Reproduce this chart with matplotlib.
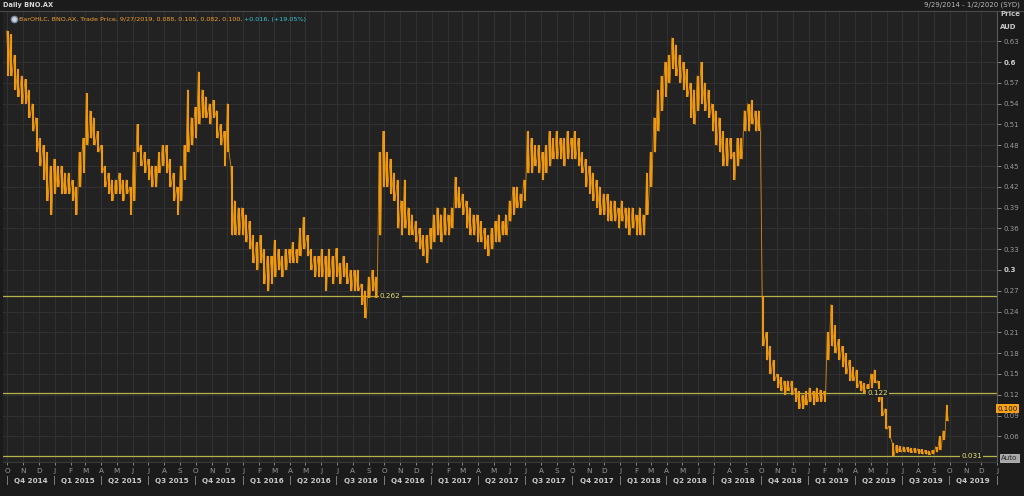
import numpy as np
import pandas as pd
import matplotlib
matplotlib.use("Agg")
import matplotlib.pyplot as plt
import matplotlib.dates as mdates
from matplotlib.lines import Line2D

# ---------------- data (weekly ranges) ----------------
week_low = [
    # 2014 Oct-Dec
    0.58, 0.58, 0.56, 0.55, 0.54,   0.54, 0.52, 0.50, 0.47,   0.45, 0.43, 0.40, 0.38,
    # 2015
    0.41, 0.42, 0.41, 0.41, 0.41,   0.40, 0.38, 0.42, 0.44,   0.48, 0.49, 0.48, 0.47,
    0.44, 0.42, 0.41, 0.40,         0.41, 0.41, 0.40, 0.41, 0.38,   0.40, 0.47, 0.45, 0.44,
    0.43, 0.42, 0.42, 0.44, 0.45,   0.44, 0.42, 0.40, 0.38,   0.40, 0.43, 0.47, 0.48,
    0.49, 0.51, 0.52, 0.52, 0.51,   0.52, 0.49, 0.48, 0.45,   0.47, 0.35, 0.35, 0.35,
    # 2016
    0.35, 0.34, 0.33, 0.31, 0.30,   0.31, 0.28, 0.27, 0.28,   0.29, 0.30, 0.29, 0.30,
    0.31, 0.31, 0.31, 0.32, 0.33,   0.32, 0.30, 0.29, 0.29,   0.29, 0.27, 0.29, 0.28,
    0.29, 0.28, 0.29, 0.28, 0.27,   0.27, 0.27, 0.25, 0.23,   0.26, 0.27, 0.26, 0.35, 0.42,
    0.42, 0.41, 0.40, 0.36,         0.35, 0.36, 0.35, 0.35,   0.34, 0.33, 0.32, 0.31, 0.33,
    # 2017
    0.34, 0.35, 0.34, 0.35,   0.35, 0.36, 0.39, 0.39,   0.38, 0.36, 0.35, 0.35, 0.34,
    0.34, 0.33, 0.32, 0.33,   0.34, 0.34, 0.35, 0.35,   0.37, 0.38, 0.39, 0.39, 0.40,
    0.44, 0.44, 0.45, 0.44,   0.43, 0.44, 0.45, 0.46,   0.46, 0.46, 0.45, 0.46, 0.46,
    0.46, 0.45, 0.44, 0.42,   0.41, 0.40, 0.39, 0.38,   0.38, 0.37, 0.37, 0.37, 0.36,
    # 2018
    0.37, 0.36, 0.35, 0.36,   0.35, 0.35, 0.35, 0.38,   0.42, 0.47, 0.50, 0.53, 0.55,
    0.57, 0.59, 0.58, 0.57,   0.56, 0.55, 0.52, 0.51,   0.53, 0.54, 0.53, 0.52, 0.50,
    0.48, 0.47, 0.45, 0.45,   0.46, 0.43, 0.45, 0.46, 0.50,   0.50, 0.51, 0.50, 0.50,
    0.19, 0.17, 0.15, 0.14,   0.13, 0.125, 0.12, 0.125, 0.12,   0.11, 0.10, 0.10, 0.105,
    # 2019
    0.11, 0.105, 0.11, 0.11,   0.11, 0.17, 0.19, 0.18,   0.17, 0.16, 0.15, 0.14, 0.14,
    0.13, 0.125, 0.122, 0.12,  0.13, 0.137, 0.11, 0.09, 0.07,   0.058, 0.031, 0.036, 0.037,
    0.037, 0.037, 0.036, 0.036,   0.035, 0.034, 0.034, 0.033, 0.034,   0.037, 0.040, 0.055, 0.082,
]
week_high = [
    # 2014 Oct-Dec
    0.645, 0.64, 0.61, 0.59, 0.58,   0.575, 0.56, 0.54, 0.52,   0.49, 0.48, 0.47, 0.45,
    # 2015
    0.46, 0.45, 0.45, 0.44, 0.44,   0.43, 0.42, 0.47, 0.49,   0.555, 0.53, 0.52, 0.50,
    0.48, 0.45, 0.44, 0.43,         0.43, 0.44, 0.43, 0.43, 0.42,   0.47, 0.51, 0.48, 0.47,
    0.46, 0.45, 0.45, 0.47, 0.48,   0.48, 0.46, 0.44, 0.42,   0.45, 0.48, 0.56, 0.52,
    0.535, 0.586, 0.56, 0.55, 0.54,   0.545, 0.53, 0.51, 0.50,   0.54, 0.45, 0.40, 0.39,
    # 2016
    0.39, 0.38, 0.37, 0.35, 0.34,   0.35, 0.33, 0.32, 0.32,   0.343, 0.33, 0.32, 0.33,
    0.33, 0.34, 0.33, 0.36, 0.376,  0.35, 0.33, 0.32, 0.32,   0.33, 0.32, 0.33, 0.32,
    0.331, 0.31, 0.32, 0.31, 0.30,  0.30, 0.30, 0.28, 0.27,   0.29, 0.30, 0.29, 0.47, 0.50,
    0.47, 0.46, 0.44, 0.43,         0.40, 0.43, 0.39, 0.38,   0.37, 0.36, 0.35, 0.35, 0.36,
    # 2017
    0.38, 0.39, 0.38, 0.39,   0.38, 0.39, 0.434, 0.42,   0.41, 0.40, 0.39, 0.38, 0.38,
    0.37, 0.36, 0.35, 0.36,   0.37, 0.38, 0.37, 0.38,   0.40, 0.42, 0.42, 0.41, 0.43,
    0.50, 0.49, 0.48, 0.48,   0.47, 0.48, 0.50, 0.49,   0.50, 0.49, 0.49, 0.50, 0.49,
    0.50, 0.49, 0.47, 0.46,   0.45, 0.44, 0.43, 0.42,   0.41, 0.41, 0.40, 0.40, 0.39,
    # 2018
    0.40, 0.39, 0.39, 0.39,   0.38, 0.39, 0.38, 0.44,   0.47, 0.52, 0.56, 0.58, 0.60,
    0.61, 0.635, 0.625, 0.61,  0.60, 0.59, 0.57, 0.56,   0.58, 0.60, 0.57, 0.56, 0.54,
    0.53, 0.52, 0.50, 0.49,   0.49, 0.47, 0.49, 0.49, 0.53,   0.54, 0.545, 0.53, 0.53,
    0.262, 0.21, 0.19, 0.17,  0.15, 0.145, 0.14, 0.14, 0.14,   0.13, 0.125, 0.12, 0.125,
    # 2019
    0.13, 0.125, 0.13, 0.127,   0.125, 0.21, 0.25, 0.22,   0.20, 0.19, 0.18, 0.17, 0.16,
    0.156, 0.14, 0.137, 0.135,  0.15, 0.156, 0.14, 0.12, 0.10,   0.075, 0.05, 0.047, 0.046,
    0.045, 0.044, 0.043, 0.043,   0.042, 0.041, 0.040, 0.039, 0.040,   0.045, 0.060, 0.068, 0.105,
]

level_values = [0.262, 0.122, 0.031]
level_label_dates = ["2016-09-22", "2019-04-25", "2019-10-24"]
y_ticks = [0.06, 0.09, 0.12, 0.15, 0.18, 0.21, 0.24, 0.27, 0.30, 0.33, 0.36,
           0.39, 0.42, 0.45, 0.48, 0.51, 0.54, 0.57, 0.60, 0.63]
last_price = 0.100
legend_main = "BarOHLC, BNO.AX, Trade Price, 9/27/2019, 0.088, 0.105, 0.082, 0.100, "
legend_change = "+0.016, (+19.05%)"
title_left = "Daily BNO.AX"
title_right = "9/29/2014 - 1/2/2020 (SYD)"
month_letters = ["J", "F", "M", "A", "M", "J", "J", "A", "S", "O", "N", "D"]

# ---------------- figure ----------------
W, H = 1024, 496
fig = plt.figure(figsize=(W / 100, H / 100), dpi=100, facecolor="#1b1b1b")
L, R, T, B = 3, 997, 11, 462
ax = fig.add_axes([L / W, 1 - B / H, (R - L) / W, (B - T) / H])
ax.set_facecolor("#222222")

dates = pd.to_datetime(np.linspace(pd.Timestamp("2014-10-02").value,
                                   pd.Timestamp("2019-09-27").value,
                                   len(week_high)))
xd = mdates.date2num(dates)

ax.set_xlim(mdates.date2num(pd.Timestamp("2014-09-23")),
            mdates.date2num(pd.Timestamp("2020-01-01")))
ax.set_ylim(0.0229, 0.6737)

# grid
month_starts = pd.date_range("2014-10-01", "2020-01-01", freq="MS")
for d in month_starts:
    ax.axvline(mdates.date2num(d), color="#323232", lw=0.7, zorder=0)
for v in y_ticks:
    ax.axhline(v, color="#323232", lw=0.7, zorder=0)

# bars: each week as a range bar plus a thin jagged high/low trace
lo = np.array(week_low)
hi = np.array(week_high)
ax.vlines(xd, lo, hi, color="#f29a12", lw=1.5, zorder=3)
step = 1.7  # days
zx = np.column_stack([xd - step, xd + step]).ravel()
zy = np.column_stack([hi, lo]).ravel()
ax.plot(zx, zy, color="#e8960f", lw=0.6, zorder=3, alpha=0.9)

# horizontal level lines
for v, dl in zip(level_values, level_label_dates):
    ax.axhline(v, color="#b8b24a", lw=0.9, zorder=2)
    ax.text(mdates.date2num(pd.Timestamp(dl)), v, "%.3f" % v, color="#e6e27a",
            fontsize=5.2, va="center", ha="left", zorder=4,
            bbox=dict(boxstyle="square,pad=0.15", fc="#222222", ec="none"))

# axes styling
for s in ax.spines.values():
    s.set_visible(False)
ax.spines["right"].set_visible(True)
ax.spines["right"].set_color("#5a5a5a")
ax.spines["bottom"].set_visible(True)
ax.spines["bottom"].set_color("#3a3a3a")

ax.yaxis.tick_right()
ax.set_yticks(y_ticks)
ylabels = []
for v in y_ticks:
    s = ("%.2f" % v).rstrip("0")
    ylabels.append(s)
ax.set_yticklabels(ylabels)
ax.tick_params(axis="y", colors="#9a9a9a", labelsize=5.0, length=3, width=0.6, pad=1.5)
for lab, v in zip(ax.get_yticklabels(), y_ticks):
    if abs(v - 0.3) < 1e-9 or abs(v - 0.6) < 1e-9:
        lab.set_fontweight("bold")
        lab.set_color("#d0d0d0")

ax.set_xticks(mdates.date2num(month_starts))
ax.set_xticklabels([month_letters[d.month - 1] for d in month_starts])
ax.tick_params(axis="x", colors="#9a9a9a", labelsize=5.2, length=2.5, width=0.6, pad=2)

# quarter labels
trans = ax.get_xaxis_transform()
quarter_starts = pd.date_range("2014-10-01", "2020-01-01", freq="QS")
for i, q in enumerate(quarter_starts):
    ax.text(mdates.date2num(q), -0.042, "|", transform=trans, color="#9a9a9a",
            fontsize=6, ha="center", va="center", clip_on=False)
    if i < len(quarter_starts) - 1:
        mid = q + (quarter_starts[i + 1] - q) / 2
        lab = "Q%d %d" % ((q.month - 1) // 3 + 1, q.year)
        ax.text(mdates.date2num(mid), -0.042, lab, transform=trans, color="#c8c8c8",
                fontsize=5.2, fontweight="bold", ha="center", va="center", clip_on=False)

# last price tag
ax.text(1.0, last_price, "%.3f" % last_price, transform=ax.get_yaxis_transform(),
        color="#111111", fontsize=5.0, ha="left", va="center", clip_on=False, zorder=6,
        bbox=dict(boxstyle="square,pad=0.2", fc="#f7a11a", ec="none"))

# header
fig.add_artist(Line2D([0, 1], [1 - 10.5 / H, 1 - 10.5 / H], transform=fig.transFigure,
                      color="#4a4a4a", lw=0.8))
fig.text(3 / W, 1 - 5 / H, title_left, color="#d8d8d8", fontsize=4.8,
         fontweight="bold", va="center", ha="left")
fig.text(1020 / W, 1 - 5 / H, title_right, color="#b8b8b8", fontsize=5.0,
         va="center", ha="right")
fig.text(1000 / W, 1 - 14 / H, "Price", color="#c8c8c8", fontsize=5.0,
         fontweight="bold", va="center", ha="left")
fig.text(1000 / W, 1 - 27 / H, "AUD", color="#c8c8c8", fontsize=5.0,
         fontweight="bold", va="center", ha="left")

# legend line
fig.add_artist(Line2D([14 / W], [1 - 19 / H], marker="o", markersize=4.5,
                      markerfacecolor="#c8d4e4", markeredgecolor="#7a8aa0",
                      transform=fig.transFigure))
t1 = fig.text(19 / W, 1 - 19 / H, legend_main, color="#f0a030", fontsize=4.6,
              va="center", ha="left")
ax.annotate(legend_change, xy=(1, 0.5), xycoords=t1, color="#38c8d8", fontsize=4.6,
            va="center", ha="left", annotation_clip=False)

# Auto box
fig.text(1001 / W, 1 - 458 / H, "Auto", color="#2a2a2a", fontsize=5.0,
         va="center", ha="left",
         bbox=dict(boxstyle="square,pad=0.2", fc="#a8a8a8", ec="#d0d0d0", lw=0.5))

fig.savefig("out.png", dpi=100, facecolor=fig.get_facecolor())
